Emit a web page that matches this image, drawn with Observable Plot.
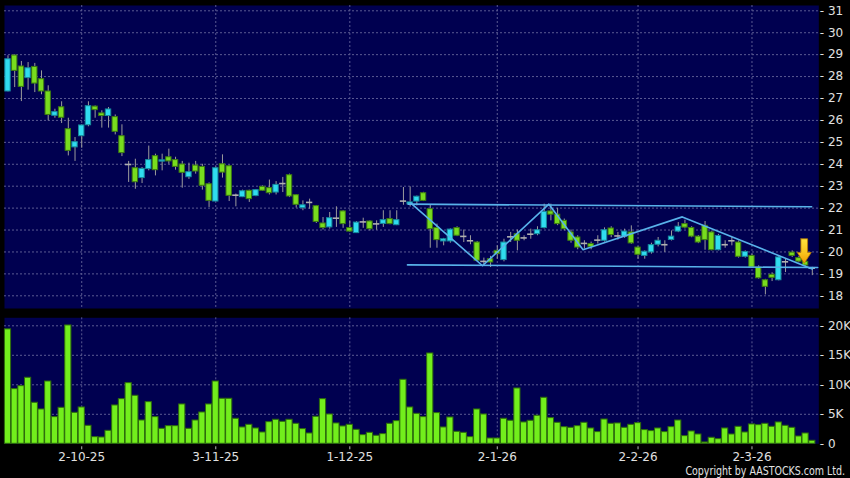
<!DOCTYPE html>
<html><head><meta charset="utf-8">
<script src="https://cdn.jsdelivr.net/npm/d3@7"></script>
<script src="https://cdn.jsdelivr.net/npm/@observablehq/plot@0.6"></script>
<style>
html,body{margin:0;padding:0;background:#000;}
#chart{position:relative;width:850px;height:478px;background:#000;overflow:hidden;font-family:"DejaVu Sans";}
#price{position:absolute;left:0;top:0;}
#vol{position:absolute;left:0;top:310px;}
#copy{position:absolute;right:5px;top:465px;font:12px/12px "DejaVu Sans";color:#e2e2e2;transform:scaleX(0.79);transform-origin:right center;white-space:nowrap;}
</style></head><body>
<div id="chart"><div id="price"></div><div id="vol"></div><div id="copy">Copyright by AASTOCKS.com Ltd.</div></div>
<script>
// ---- data ----
const openP  = [27.32,28.96,28.46,27.93,28.44,27.88,27.32,26.21,26.60,25.60,24.77,25.28,25.78,26.63,26.32,26.20,26.15,25.28,23.99,23.82,23.37,23.78,24.37,24.12,24.32,24.19,23.99,23.41,23.94,23.88,
                23.09,22.30,24.00,23.91,22.59,22.50,22.79,22.55,22.97,22.91,22.71,23.12,23.50,22.59,22.00,22.26,22.09,21.30,21.12,21.54,21.85,21.09,20.86,21.37,21.39,21.28,21.28,21.50,21.22,22.32,
                22.17,22.30,22.68,21.95,21.09,20.48,20.48,21.09,20.71,20.51,20.43,19.57,19.67,20.05,19.63,20.69,20.81,20.64,20.81,20.81,21.09,21.85,21.70,21.42,20.89,20.66,20.39,20.36,20.54,20.51,
                21.07,20.73,20.69,20.89,20.20,19.82,19.98,20.33,20.33,20.55,20.93,21.27,21.09,20.70,21.19,20.89,20.08,20.33,20.51,20.43,19.78,19.82,19.29,18.71,18.96,18.71,19.55,19.97,19.72,19.55,19.26];
const highP  = [28.95,29.00,28.69,28.64,28.60,28.26,27.58,26.51,26.85,26.10,25.22,25.80,26.85,26.66,26.44,26.59,26.25,25.80,24.13,24.23,23.85,24.83,24.46,24.46,24.69,24.32,24.13,24.05,24.13,24.00,
                23.15,23.88,24.43,23.95,22.64,22.82,22.82,22.85,23.02,23.28,23.21,23.40,23.55,22.62,22.33,22.41,22.12,21.57,21.80,22.06,21.88,21.42,21.38,21.54,21.42,21.42,21.88,21.88,21.88,22.94,
                22.97,22.55,22.72,22.15,21.27,20.62,21.05,21.15,21.00,20.74,20.48,19.72,19.80,20.28,20.58,20.89,21.00,20.74,21.04,21.15,22.18,22.18,21.99,21.50,21.00,20.74,20.51,20.45,20.74,21.10,
                21.15,20.89,21.04,21.19,20.25,20.05,20.40,20.66,20.51,20.96,21.34,21.45,21.15,20.75,21.39,20.95,20.80,20.51,20.66,20.50,20.05,19.90,19.37,18.75,19.05,19.80,19.70,20.05,19.80,19.60,19.30];
const lowP   = [27.30,27.50,26.86,27.38,27.27,27.17,25.98,26.10,25.86,24.38,24.13,24.73,25.71,26.10,25.65,25.65,25.34,24.35,23.17,22.86,23.12,23.70,23.47,23.70,24.00,23.73,22.91,23.31,23.55,22.82,
                22.03,22.30,23.37,22.30,22.06,22.48,22.26,22.52,22.76,22.60,22.60,22.71,22.48,22.00,21.88,21.95,21.30,21.00,21.04,21.12,21.08,20.90,20.84,21.08,20.96,20.99,21.12,21.24,21.20,22.13,
                22.05,22.10,22.30,20.17,20.17,20.28,20.40,20.70,20.43,20.33,19.56,19.42,19.29,19.67,19.55,20.43,20.05,20.51,20.58,20.74,21.05,21.42,21.20,20.96,20.40,20.10,20.13,20.10,20.36,20.45,
                20.65,20.54,20.62,20.35,19.67,19.67,19.90,20.23,19.98,20.50,20.88,21.05,20.65,20.38,20.08,20.05,20.05,20.17,20.28,19.72,19.72,19.25,18.76,18.04,18.65,18.68,19.06,19.75,19.50,19.34,18.92];
const closeP = [28.79,28.26,27.53,28.38,27.68,27.32,26.25,26.38,26.12,24.61,25.01,25.77,26.65,26.47,26.20,26.50,25.48,24.51,23.99,23.18,23.79,24.19,23.73,24.18,24.13,23.88,23.61,23.64,23.67,23.02,
                22.33,23.82,23.62,22.56,22.59,22.77,22.41,22.82,22.79,22.68,23.06,23.12,22.53,22.15,22.13,22.26,21.37,21.09,21.54,21.54,21.27,20.93,21.34,21.37,21.04,21.28,21.45,21.27,21.45,22.32,
                22.26,22.52,22.33,21.04,20.54,20.58,21.02,20.74,20.71,20.51,19.60,19.57,19.52,19.90,20.43,20.69,20.51,20.64,20.81,20.99,21.83,21.70,21.27,21.04,20.51,20.20,20.39,20.23,20.54,20.99,
                20.77,20.73,20.93,20.39,19.87,20.01,20.31,20.51,20.33,20.70,21.15,21.11,20.70,20.43,20.54,20.08,20.73,20.33,20.51,19.78,20.00,19.29,18.80,18.41,18.82,19.75,19.55,19.82,19.56,19.38,19.26];
// volume in thousands of shares
const volumeK = [19.4,9.27,9.77,11.19,6.95,5.82,10.56,4.52,6.1,20.06,5.25,6.16,3.05,1.13,1.07,2.2,6.5,7.57,10.28,8.14,3.95,7.06,4.52,2.54,2.99,2.99,6.67,2.54,3.95,5.31,6.67,10.56,7.63,7.63,4.24,2.77,3.22,2.6,1.92,3.67,4.07,
                 3.73,4.07,3.39,2.49,1.75,4.58,7.57,4.97,3.45,2.94,3.22,2.37,1.47,1.86,1.36,1.64,3.39,3.84,10.85,6.16,5.08,4.52,15.31,5.2,2.77,4.46,2.03,1.86,1.13,5.82,4.97,0.9,0.9,4.24,3.9,9.38,3.62,3.9,4.75,
                 7.8,4.35,3.56,2.82,2.71,2.99,3.56,2.6,1.98,4.12,3.39,3.45,2.71,3.22,3.5,2.32,2.15,2.6,1.98,2.82,3.95,1.3,2.09,1.58,0.23,1.02,0.79,2.6,1.58,2.88,1.92,3.28,3.16,3.39,2.88,3.62,3.05,2.71,1.24,1.75,0.51];
const dateTickIndex = [11, 31, 51, 73, 94, 111];
const dateTickLabels = ["2-10-25", "3-11-25", "1-12-25", "2-1-26", "2-2-26", "2-3-26"];
const priceTicks = [18,19,20,21,22,23,24,25,26,27,28,29,30,31];
const volumeTicks = [0, 5, 10, 15, 20];
// drawn pattern lines: [bar index, price]
const trendTop = [[59.7, 22.18], [119.9, 22.06]];
const trendBottom = [[59.6, 19.41], [120.8, 19.29]];
const trendZigzag = [[60.1, 22.23], [70.8, 19.37], [80.7, 22.18], [85.8, 20.10], [100.6, 21.60], [120.0, 19.22]];
const arrowAnno = {i: 118.8, top: 20.6, neck: 19.98, tip: 19.48, shaftHalf: 0.5, headHalf: 1.05};

// ---- build tables ----
const candles = openP.map((o, i) => ({i, open: o, high: highP[i], low: lowP[i], close: closeP[i]}));
const bodies = candles.filter(d => d.open !== d.close);
const dojis = candles.filter(d => d.open === d.close);
const vols = volumeK.map((v, i) => ({i, v}));
const lines = [
  ...trendTop.map(([i, p]) => ({k: "top", i, p})),
  ...trendBottom.map(([i, p]) => ({k: "bottom", i, p})),
  ...trendZigzag.map(([i, p]) => ({k: "zig", i, p}))
];
const a = arrowAnno;
const arrowPts = [
  [a.i - a.shaftHalf, a.top], [a.i + a.shaftHalf, a.top], [a.i + a.shaftHalf, a.neck],
  [a.i + a.headHalf, a.neck], [a.i, a.tip], [a.i - a.headHalf, a.neck],
  [a.i - a.shaftHalf, a.neck], [a.i - a.shaftHalf, a.top]
].map(([i, p]) => ({i, p}));
const labelOf = new Map(dateTickIndex.map((t, k) => [t, dateTickLabels[k]]));

const NAVY = "#000050", GRID = "#5a5a92", GREEN = "#78dc1e", GREEN_S = "#3c7a12",
      CYAN = "#30dcef", CYAN_S = "#168a9c", TEXT = "#e0e0e0";
const xDomain = [-0.522, 120.97];
const gridStyle = {stroke: GRID, strokeWidth: 1, strokeDasharray: "2,2"};
const defs = () => {
  const ns = "http://www.w3.org/2000/svg";
  const g = document.createElementNS(ns, "defs");
  g.innerHTML = '<linearGradient id="arrowGrad" x1="0" y1="0" x2="0" y2="1"><stop offset="0" stop-color="#ffe43c"/><stop offset="0.6" stop-color="#f8c21c"/><stop offset="1" stop-color="#ef9a00"/></linearGradient>';
  return g;
};

const price = Plot.plot({
  width: 850, height: 310,
  marginLeft: 4, marginRight: 31.7, marginTop: 5, marginBottom: 2,
  style: {background: "transparent", color: TEXT, fontFamily: "DejaVu Sans", fontSize: "12px"},
  x: {type: "linear", domain: xDomain, axis: null},
  y: {domain: [17.421, 31.242], axis: null},
  marks: [
    defs,
    Plot.frame({fill: NAVY, stroke: "none"}),
    Plot.ruleY(priceTicks, gridStyle),
    Plot.ruleX(dateTickIndex, gridStyle),
    Plot.axisY({anchor: "right", label: null, ticks: priceTicks, tickSize: 0, tickPadding: 1, tickFormat: d => "- " + d, fill: TEXT}),
    Plot.ruleX(candles, {x: "i", y1: "low", y2: "high", stroke: "#9c9c9c", strokeWidth: 1}),
    Plot.rect(bodies, {x1: d => d.i - 0.4, x2: d => d.i + 0.4, y1: "open", y2: "close",
      fill: d => d.close > d.open ? CYAN : GREEN, stroke: d => d.close > d.open ? CYAN_S : GREEN_S, strokeWidth: 1}),
    Plot.ruleY(dojis, {y: "close", x1: d => d.i - 0.47, x2: d => d.i + 0.47, stroke: "#b0b0b0", strokeWidth: 1.6}),
    Plot.line(lines, {x: "i", y: "p", z: "k", stroke: "#58b2ea", strokeWidth: 1.6}),
    Plot.line(arrowPts, {x: "i", y: "p", fill: "url(#arrowGrad)", stroke: "#b87a00", strokeWidth: 0.8, curve: "linear"})
  ]
});
document.getElementById("price").appendChild(price);

const vol = Plot.plot({
  width: 850, height: 168,
  marginLeft: 4, marginRight: 31.7, marginTop: 7.3, marginBottom: 34.7,
  style: {background: "transparent", color: TEXT, fontFamily: "DejaVu Sans", fontSize: "12px"},
  x: {type: "linear", domain: xDomain, axis: null},
  y: {domain: [0, 21.356], axis: null},
  marks: [
    Plot.frame({fill: NAVY, stroke: "none"}),
    Plot.ruleY(volumeTicks.filter(d => d > 0), gridStyle),
    Plot.ruleX(dateTickIndex, gridStyle),
    Plot.rect(vols, {x1: d => d.i - 0.46, x2: d => d.i + 0.46, y1: 0, y2: "v", fill: "#72ee1c", stroke: "#2e6c0c", strokeWidth: 1}),
    Plot.axisY({anchor: "right", label: null, ticks: volumeTicks, tickSize: 0, tickPadding: 1, tickFormat: d => "- " + (d === 0 ? "0" : d + "K"), fill: TEXT}),
    Plot.axisX({label: null, ticks: dateTickIndex, tickFormat: d => labelOf.get(d), tickSize: 3, dy: 3, tickPadding: 3, stroke: "#b8b8b8", fill: TEXT})
  ]
});
document.getElementById("vol").appendChild(vol);
</script>
</body></html>
